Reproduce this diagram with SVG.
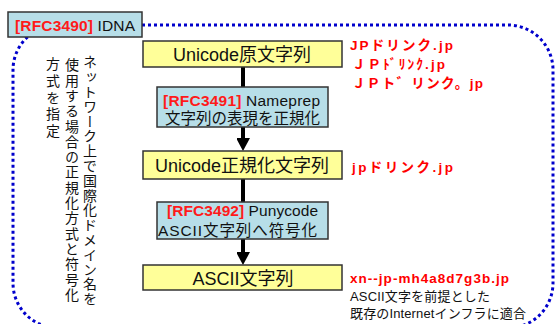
<svg xmlns="http://www.w3.org/2000/svg" width="555" height="324" viewBox="0 0 555 324">
<defs>
<style>
.yb{fill:#ffff99;stroke:#333;stroke-width:1.5}
.cb{fill:#b7dee8;stroke:#333;stroke-width:1.5}
.t{font-family:"Liberation Sans","Noto Sans CJK JP",sans-serif;fill:#111}
.rfc{fill:#ff1a1a;font-weight:bold}
.red{font-family:"Liberation Sans","Noto Sans CJK JP",sans-serif;font-weight:bold;fill:#ff0000;font-size:13.5px}
.v{font-family:"Noto Sans CJK JP",sans-serif;font-size:14px;fill:#111;writing-mode:vertical-rl}
.ln{stroke:#000;stroke-width:4;fill:none}
</style>
<marker id="ah" markerUnits="userSpaceOnUse" markerWidth="14" markerHeight="13" refX="0" refY="7" orient="auto">
<path d="M0,0 L13,7 L0,14 z" fill="#000"/>
</marker>
</defs>
<rect id="frame" x="13" y="25" width="540" height="303" rx="45" ry="45" fill="none" stroke="#0000cc" stroke-width="3" stroke-dasharray="3 3"/>
<g id="idna">
<rect x="8" y="12" width="134" height="25" class="cb"/>
<text class="t" x="15" y="31" font-size="15.5" textLength="120"><tspan class="rfc">[RFC3490]</tspan> IDNA</text>
</g>
<g id="vtext">
<text class="v" x="90" y="55" letter-spacing="0.8">ネットワーク上で国際化ドメイン名を</text>
<text class="v" x="72" y="58" letter-spacing="1.3">使用する場合の正規化方式と符号化</text>
<text class="v" x="53" y="57" letter-spacing="2.6">方式を指定</text>
</g>
<g id="connectors">
<line class="ln" x1="243" y1="67" x2="243" y2="88"/>
<line class="ln" x1="243" y1="127" x2="243" y2="138" marker-end="url(#ah)"/>
<line class="ln" x1="243" y1="179" x2="243" y2="203"/>
<line class="ln" x1="243" y1="239" x2="243" y2="252" marker-end="url(#ah)"/>
</g>
<g id="n1">
<rect x="143" y="41" width="199" height="26" class="yb"/>
<text class="t" x="242" y="61" font-size="18" text-anchor="middle">Unicode原文字列</text>
</g>
<g id="n2">
<rect x="157" y="87" width="171" height="40" class="cb"/>
<text class="t" x="163" y="106" font-size="15.5" textLength="157"><tspan class="rfc">[RFC3491]</tspan> Nameprep</text>
<text class="t" x="165" y="124" font-size="15.5" textLength="155">文字列の表現を正規化</text>
</g>
<g id="n3">
<rect x="143" y="151" width="199" height="28" class="yb"/>
<text class="t" x="242" y="172" font-size="18" text-anchor="middle">Unicode正規化文字列</text>
</g>
<g id="n4">
<rect x="157" y="202" width="171" height="37" class="cb"/>
<text class="t" x="167" y="216" font-size="15.5" textLength="151"><tspan class="rfc">[RFC3492]</tspan> Punycode</text>
<text class="t" x="158" y="236" font-size="15.5" textLength="159">ASCII文字列へ符号化</text>
</g>
<g id="n5">
<rect x="143" y="265" width="199" height="25" class="yb"/>
<text class="t" x="243" y="285" font-size="18" text-anchor="middle">ASCII文字列</text>
</g>
<g id="labels">
<text class="red" x="350" y="50" textLength="103">JPドリンク.jp</text>
<text class="red" x="352" y="69" textLength="93">ＪＰﾄﾞﾘﾝｸ.jp</text>
<text class="red" x="352" y="88" textLength="131">ＪＰト゛リンク。jp</text>
<text class="red" x="352" y="172" textLength="101">jpドリンク.jp</text>
<text class="red" x="350" y="283" textLength="159">xn--jp-mh4a8d7g3b.jp</text>
<text class="t" x="350" y="301" font-size="13" textLength="140">ASCII文字を前提とした</text>
<text class="t" x="350" y="318" font-size="13" textLength="176">既存のInternetインフラに適合</text>
</g>
</svg>
